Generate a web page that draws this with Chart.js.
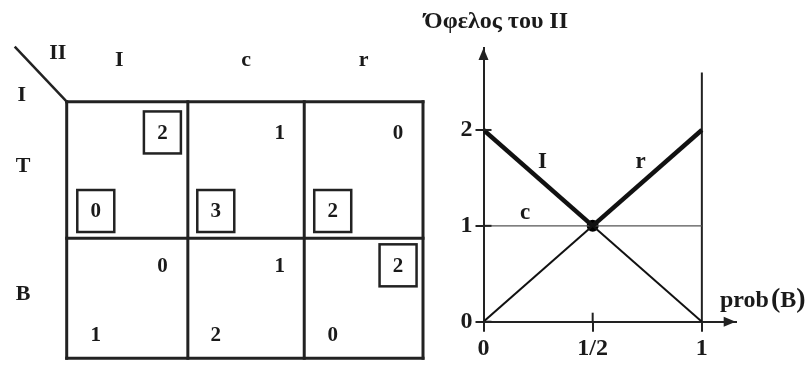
<!DOCTYPE html>
<html>
<head>
<meta charset="utf-8">
<script src="https://cdn.jsdelivr.net/npm/chart.js@4.4.1/dist/chart.umd.min.js"></script>
<style>
  html, body { margin: 0; padding: 0; background: #fff; }
  #wrap { position: relative; width: 807px; height: 365px; overflow: hidden; }
  #matrixBox { position: absolute; left: 0; top: 0; width: 426px; height: 365px; }
  #graphBox { position: absolute; left: 420px; top: 0; width: 387px; height: 365px; }
</style>
</head>
<body>
<div id="wrap">
  <div id="matrixBox"><canvas id="matrix"></canvas></div>
  <div id="graphBox"><canvas id="graph"></canvas></div>
</div>
<script>
// Πίνακας του παιγνίου (παίκτης I γραμμές, παίκτης II στήλες)
const rows = ['T', 'B'];
const cols = ['I', 'c', 'r'];
const payoffI = [[0, 3, 2], [1, 2, 0]];
const payoffII = [[2, 1, 0], [0, 1, 2]];
const bestI = [[true, true, true], [false, false, false]];
const bestII = [[true, false, false], [false, false, true]];
const rowEdges = [2, 0.935, 0];       // όρια γραμμών (T, B), από πάνω προς τα κάτω
const colEdges = [0, 1.02, 2, 3];     // όρια στηλών (I, c, r)

// Όφελος του II ως συνάρτηση του prob(B)
const probB = [0, 0.5, 1];
const payoffL = [2, 1, 0];
const payoffC = [1, 1, 1];
const payoffR = [0, 1, 2];
const boundaryY = [0, 2.6];
const eqX = [0.5];
const eqY = [1];
const xTicks = [0, 0.5, 1];
const xTickLabels = ['0', '1/2', '1'];
const yTicks = [0, 1, 2];
const lineNames = ['I', 'c', 'r'];
const lineNameX = [0.27, 0.19, 0.72];
const lineNameY = [1.66, 1.13, 1.66];

const FONT = "'Liberation Serif', 'Times New Roman', serif";
const INK = '#1a1a1a';

// ---------- αριστερά: ο πίνακας ----------
const matrixPlugin = {
    id: 'matrixPlugin',
    afterDatasetsDraw(chart) {
        const { ctx } = chart;
        const xs = chart.scales.x, ys = chart.scales.y;
        const yTop = ys.getPixelForValue(rowEdges[0]);
        const yBot = ys.getPixelForValue(rowEdges[rowEdges.length - 1]);
        const xL = xs.getPixelForValue(colEdges[0]);
        const xR = xs.getPixelForValue(colEdges[colEdges.length - 1]);
        ctx.save();
        ctx.strokeStyle = '#222';
        ctx.lineWidth = 3;
        // γραμμές του πίνακα
        colEdges.forEach(e => {
            const px = xs.getPixelForValue(e);
            ctx.beginPath();
            ctx.moveTo(px, yTop - 1.5);
            ctx.lineTo(px, yBot + 1.5);
            ctx.stroke();
        });
        rowEdges.forEach(e => {
            const py = ys.getPixelForValue(e);
            ctx.beginPath();
            ctx.moveTo(xL - 1.5, py);
            ctx.lineTo(xR + 1.5, py);
            ctx.stroke();
        });
        // διαγώνιος στη γωνία
        const cx = xL, cy = yTop;
        ctx.lineWidth = 2.5;
        ctx.beginPath();
        ctx.moveTo(cx - 52, cy - 55);
        ctx.lineTo(cx, cy);
        ctx.stroke();

        ctx.fillStyle = INK;
        ctx.font = 'bold 22px ' + FONT;
        ctx.textAlign = 'center';
        ctx.textBaseline = 'middle';
        ctx.fillText('II', cx - 9, cy - 48);
        ctx.fillText('I', cx - 45, cy - 6);
        cols.forEach((c, j) => {
            const mid = (xs.getPixelForValue(colEdges[j]) + xs.getPixelForValue(colEdges[j + 1])) / 2;
            ctx.fillText(c, mid - (j === 0 ? 8 : 0), cy - 41);
        });
        rows.forEach((r, i) => {
            const mid = (ys.getPixelForValue(rowEdges[i]) + ys.getPixelForValue(rowEdges[i + 1])) / 2;
            ctx.fillText(r, 23, mid - 4);
        });

        // τα οφέλη
        ctx.font = 'bold 21px ' + FONT;
        const drawNum = (v, x, y, boxed) => {
            ctx.fillText(String(v), x, y + 1);
            if (boxed) {
                ctx.lineWidth = 2.5;
                ctx.strokeRect(x - 18.5, y - 21, 37, 42);
            }
        };
        rows.forEach((r, i) => {
            const t = ys.getPixelForValue(rowEdges[i]);
            const h = ys.getPixelForValue(rowEdges[i + 1]) - t;
            cols.forEach((c, j) => {
                const l = xs.getPixelForValue(colEdges[j]);
                const w = xs.getPixelForValue(colEdges[j + 1]) - l;
                drawNum(payoffII[i][j], l + w * 0.79, t + h * 0.225, bestII[i][j]);
                drawNum(payoffI[i][j], l + w * 0.24, t + h * 0.8, bestI[i][j]);
            });
        });
        ctx.restore();
    }
};

new Chart(document.getElementById('matrix'), {
    type: 'scatter',
    data: { datasets: [{ data: [], pointRadius: 0 }] },
    options: {
        responsive: true,
        maintainAspectRatio: false,
        animation: false,
        events: [],
        layout: { padding: { left: 66.7, right: 3, top: 101.7, bottom: 6.7 } },
        plugins: { legend: { display: false }, tooltip: { enabled: false } },
        scales: {
            x: { type: 'linear', min: 0, max: colEdges[colEdges.length - 1], display: false },
            y: { type: 'linear', min: 0, max: rowEdges[0], display: false }
        }
    },
    plugins: [matrixPlugin]
});

// ---------- δεξιά: το γράφημα ----------
const pts = (xs, ys) => xs.map((x, k) => ({ x: x, y: ys[k] }));
const thickFirst = ctx => (ctx.p0DataIndex === 0 ? 4.5 : 2);
const thickSecond = ctx => (ctx.p0DataIndex === 0 ? 2 : 4.5);

const graphPlugin = {
    id: 'graphPlugin',
    afterDraw(chart) {
        const { ctx, chartArea } = chart;
        const xs = chart.scales.x, ys = chart.scales.y;
        const x0 = xs.getPixelForValue(0), y0 = ys.getPixelForValue(0);
        ctx.save();
        ctx.strokeStyle = '#222';
        ctx.fillStyle = '#222';
        ctx.lineWidth = 2;
        // εσωτερικό μέρος των υποδιαιρέσεων
        yTicks.forEach(v => {
            const py = ys.getPixelForValue(v);
            ctx.beginPath(); ctx.moveTo(x0, py); ctx.lineTo(x0 + 8, py); ctx.stroke();
        });
        ctx.beginPath();
        ctx.moveTo(xs.getPixelForValue(0.5), y0);
        ctx.lineTo(xs.getPixelForValue(0.5), y0 - 9);
        ctx.stroke();
        // βέλη των αξόνων
        ctx.beginPath();
        ctx.moveTo(x0, chartArea.top);
        ctx.lineTo(x0 - 5, chartArea.top + 12);
        ctx.lineTo(x0 + 5, chartArea.top + 12);
        ctx.closePath(); ctx.fill();
        ctx.beginPath();
        ctx.moveTo(chartArea.right, y0);
        ctx.lineTo(chartArea.right - 12, y0 - 5);
        ctx.lineTo(chartArea.right - 12, y0 + 5);
        ctx.closePath(); ctx.fill();

        // ονόματα των ευθειών
        ctx.fillStyle = INK;
        ctx.font = 'bold 23px ' + FONT;
        ctx.textAlign = 'center';
        ctx.textBaseline = 'middle';
        lineNames.forEach((n, k) => {
            ctx.fillText(n, xs.getPixelForValue(lineNameX[k]), ys.getPixelForValue(lineNameY[k]));
        });

        // τίτλοι
        ctx.textAlign = 'left';
        ctx.font = 'bold 24px ' + FONT;
        ctx.fillText('Όφελος του ΙΙ', 4, 22);
        ctx.textBaseline = 'alphabetic';
        let tx = 300;
        const base = 307;
        const part = (s, size) => {
            ctx.font = 'bold ' + size + 'px ' + FONT;
            ctx.fillText(s, tx, base);
            tx += ctx.measureText(s).width;
        };
        part('prob', 24); tx += 2;
        part('(', 28); part('B', 24); part(')', 28);
        ctx.restore();
    }
};

new Chart(document.getElementById('graph'), {
    type: 'line',
    data: {
        datasets: [
            { data: pts(probB, payoffL), borderColor: '#111', segment: { borderWidth: thickFirst }, borderWidth: 2, pointRadius: 0 },
            { data: pts(probB, payoffR), borderColor: '#111', segment: { borderWidth: thickSecond }, borderWidth: 2, pointRadius: 0 },
            { data: pts(probB, payoffC), borderColor: '#555', borderWidth: 1.2, pointRadius: 0 },
            { data: pts([1, 1], boundaryY), borderColor: '#222', borderWidth: 2, pointRadius: 0 },
            { data: pts(eqX, eqY), showLine: false, pointRadius: 6, pointBackgroundColor: '#000', pointBorderWidth: 0 }
        ]
    },
    options: {
        responsive: true,
        maintainAspectRatio: false,
        animation: false,
        events: [],
        layout: { padding: { left: 0, right: 71.3, top: 48, bottom: 0 } },
        plugins: { legend: { display: false }, tooltip: { enabled: false } },
        scales: {
            x: {
                type: 'linear', min: 0, max: 1.155,
                afterBuildTicks: s => { s.ticks = xTicks.map(v => ({ value: v })); },
                afterFit: s => { s.height = 43.3; },
                ticks: {
                    color: INK, padding: 3, maxRotation: 0, autoSkip: false,
                    font: { family: FONT, size: 24, weight: 'bold' },
                    callback: v => xTickLabels[xTicks.indexOf(v)]
                },
                grid: { drawOnChartArea: false, tickLength: 10, color: '#222', lineWidth: 2 },
                border: { color: '#222', width: 2 }
            },
            y: {
                type: 'linear', min: 0, max: 2.855,
                afterBuildTicks: s => { s.ticks = yTicks.map(v => ({ value: v })); },
                afterFit: s => { s.width = 63.5; },
                ticks: {
                    color: INK, padding: 3, autoSkip: false,
                    font: { family: FONT, size: 24, weight: 'bold' }
                },
                grid: { drawOnChartArea: false, tickLength: 8, color: '#222', lineWidth: 2 },
                border: { color: '#222', width: 2 }
            }
        }
    },
    plugins: [graphPlugin]
});
</script>
</body>
</html>
